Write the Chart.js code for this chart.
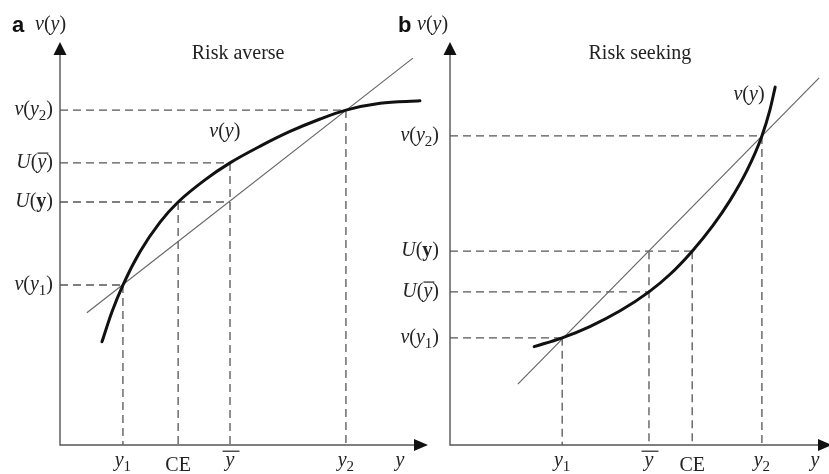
<!DOCTYPE html>
<html>
<head>
<meta charset="utf-8">
<script src="https://cdn.jsdelivr.net/npm/chart.js@4"></script>
<style>
  html, body { margin: 0; padding: 0; background: #fff; }
  #wrap { position: relative; width: 829px; height: 474px; overflow: hidden; }
  canvas { position: absolute; top: 0; }
  #ca { left: 0; }
  #cb { left: 390px; }
</style>
</head>
<body>
<div id="wrap">
  <canvas id="ca" width="440" height="474"></canvas>
  <canvas id="cb" width="439" height="474"></canvas>
</div>
<script>
// panel a - risk averse
const aXTicks = [1.71, 3.21, 4.62, 7.77];
const aXLabels = ["y1", "CE", "ybar", "y2"];
const aYTicks = [3.97, 6.03, 7.00, 8.31];
const aYLabels = ["v(y1)", "U(y)", "U(ybar)", "v(y2)"];
const aCurveX = [1.14, 1.41, 1.71, 2.17, 2.72, 3.21, 3.94, 4.62, 5.43, 6.25, 7.07, 7.77, 8.70, 9.78];
const aCurveY = [2.56, 3.30, 3.97, 4.79, 5.53, 6.03, 6.58, 7.00, 7.41, 7.78, 8.09, 8.31, 8.48, 8.54];
const aLineX = [0.73, 9.59];
const aLineY = [3.28, 9.60];
const aHoriz = [0, 2, 2, 3];   // y tick i runs across to x tick aHoriz[i]
const aVert = [0, 1, 2, 3];    // x tick i drops from y tick aVert[i]

// panel b - risk seeking
const bXTicks = [2.96, 5.25, 6.39, 8.23];
const bXLabels = ["y1", "ybar", "CE", "y2"];
const bYTicks = [2.66, 3.80, 4.81, 7.67];
const bYLabels = ["v(y1)", "U(ybar)", "U(y)", "v(y2)"];
const bCurveX = [2.22, 2.96, 3.69, 4.49, 5.25, 5.80, 6.39, 6.94, 7.39, 7.84, 8.23, 8.44, 8.58];
const bCurveY = [2.44, 2.66, 2.94, 3.33, 3.80, 4.23, 4.81, 5.45, 6.07, 6.82, 7.67, 8.31, 8.88];
const bLineX = [1.79, 9.74];
const bLineY = [1.51, 9.11];
const bHoriz = [0, 1, 2, 3];
const bVert = [0, 2, 2, 3];

const LABELS = {
  "y": [["y", "i"]],
  "v(y)": [["v", "i"], ["(", "r"], ["y", "i"], [")", "r"]],
  "y1": [["y", "i"], ["1", "s"]],
  "y2": [["y", "i"], ["2", "s"]],
  "ybar": [["y", "wbar"]],
  "CE": [["CE", "r"]],
  "v(y1)": [["v", "i"], ["(", "r"], ["y", "i"], ["1", "s"], [")", "r"]],
  "v(y2)": [["v", "i"], ["(", "r"], ["y", "i"], ["2", "s"], [")", "r"]],
  "U(y)": [["U", "i"], ["(", "r"], ["y", "b"], [")", "r"]],
  "U(ybar)": [["U", "i"], ["(", "r"], ["y", "bar"], [")", "r"]]
};

function drawMath(ctx, parts, x, y, align, size) {
  const fontOf = s => {
    if (s === "i" || s === "bar" || s === "wbar") return "italic " + size + "px 'Liberation Serif'";
    if (s === "b") return "bold " + size + "px 'Liberation Serif'";
    if (s === "s") return Math.round(size * 0.75) + "px 'Liberation Serif'";
    return size + "px 'Liberation Serif'";
  };
  const widths = parts.map(p => { ctx.font = fontOf(p[1]); return ctx.measureText(p[0]).width; });
  const total = widths.reduce((s, w) => s + w, 0);
  let cx = align === "right" ? x - total : align === "center" ? x - total / 2 : x;
  ctx.textAlign = "left";
  ctx.textBaseline = "alphabetic";
  parts.forEach((p, i) => {
    const s = p[1];
    ctx.font = fontOf(s);
    ctx.fillText(p[0], cx, s === "s" ? y + size * 0.25 : y);
    if (s === "bar" || s === "wbar") {
      const ext = s === "wbar" ? 4 : 1;
      ctx.lineWidth = 1.2;
      ctx.beginPath();
      ctx.moveTo(cx - ext + 1, y - size * 0.74);
      ctx.lineTo(cx + widths[i] + ext + 1, y - size * 0.74);
      ctx.stroke();
    }
    cx += widths[i];
  });
}

const diagram = {
  id: "diagram",
  beforeDatasetsDraw(chart, args, o) {
    const ctx = chart.ctx, a = chart.chartArea;
    ctx.save();
    ctx.strokeStyle = "#555";
    ctx.lineWidth = 1.4;
    ctx.beginPath();
    ctx.moveTo(a.left, a.top + 10);
    ctx.lineTo(a.left, a.bottom);
    ctx.lineTo(a.right + o.arrowShift - 10, a.bottom);
    ctx.stroke();
    ctx.fillStyle = "#111";
    ctx.beginPath();
    ctx.moveTo(a.left, a.top);
    ctx.lineTo(a.left - 6.5, a.top + 13);
    ctx.lineTo(a.left + 6.5, a.top + 13);
    ctx.fill();
    const tip = a.right + o.arrowShift;
    ctx.beginPath();
    ctx.moveTo(tip, a.bottom);
    ctx.lineTo(tip - 14, a.bottom - 6);
    ctx.lineTo(tip - 14, a.bottom + 6);
    ctx.fill();
    ctx.restore();
  },
  afterDraw(chart, args, o) {
    const ctx = chart.ctx, a = chart.chartArea;
    const sx = chart.scales.x, sy = chart.scales.y;
    ctx.save();
    ctx.fillStyle = "#222";
    ctx.strokeStyle = "#222";
    o.yTicks.forEach((v, i) => {
      drawMath(ctx, LABELS[o.yLabels[i]], a.left - o.tickGap, sy.getPixelForValue(v) + 5, "right", 20);
    });
    o.xTicks.forEach((v, i) => {
      const lab = o.xLabels[i];
      drawMath(ctx, LABELS[lab], sx.getPixelForValue(v), a.bottom + (lab === "CE" ? 26 : 21), "center", 20);
    });
    drawMath(ctx, LABELS["y"], sx.getPixelForValue(o.axisLabelX), a.bottom + 21, "center", 20);
    drawMath(ctx, LABELS["v(y)"], sx.getPixelForValue(o.curveLabel[0]), sy.getPixelForValue(o.curveLabel[1]), "center", 20);
    ctx.font = "20px 'Liberation Serif'";
    ctx.textAlign = "center";
    ctx.fillText(o.title, sx.getPixelForValue(o.titlePos[0]), sy.getPixelForValue(o.titlePos[1]));
    ctx.font = "bold 22px 'Liberation Sans'";
    ctx.textAlign = "left";
    ctx.fillStyle = "#111";
    ctx.fillText(o.letter, a.left + o.letterDx, 32);
    ctx.fillStyle = "#222";
    drawMath(ctx, LABELS["v(y)"], a.left + o.headDx, 30, "left", 20);
    ctx.restore();
  }
};

function pts(xs, ys) {
  return xs.map((x, i) => ({ x: x, y: ys[i] }));
}

function dashed(data) {
  return {
    data: data, borderColor: "#555", borderWidth: 1.3, tension: 0,
    borderDash: [8, 5], pointRadius: 0, order: 2, clip: false
  };
}

function makeChart(id, p) {
  const sets = [
    {
      data: pts(p.curveX, p.curveY), borderColor: "#111", borderWidth: 3,
      cubicInterpolationMode: "monotone",
      borderCapStyle: "round", borderJoinStyle: "round",
      pointRadius: 0, order: 0, clip: false
    },
    {
      data: pts(p.lineX, p.lineY), borderColor: "#666", borderWidth: 1.2, tension: 0,
      pointRadius: 0, order: 1, clip: false
    }
  ];
  p.horiz.forEach((xi, i) => {
    sets.push(dashed([{ x: 0, y: p.yTicks[i] }, { x: p.xTicks[xi], y: p.yTicks[i] }]));
  });
  p.vert.forEach((yi, i) => {
    sets.push(dashed([{ x: p.xTicks[i], y: p.yTicks[yi] }, { x: p.xTicks[i], y: 0 }]));
  });
  return new Chart(document.getElementById(id), {
    type: "line",
    data: { datasets: sets },
    options: {
      responsive: false,
      animation: false,
      events: [],
      layout: { padding: p.pad },
      scales: {
        x: { display: false, type: "linear", min: 0, max: 10 },
        y: { display: false, type: "linear", min: 0, max: 10 }
      },
      plugins: {
        legend: { display: false },
        tooltip: { enabled: false },
        diagram: p.diagram
      }
    },
    plugins: [diagram]
  });
}

makeChart("ca", {
  curveX: aCurveX, curveY: aCurveY, lineX: aLineX, lineY: aLineY,
  xTicks: aXTicks, yTicks: aYTicks, horiz: aHoriz, vert: aVert,
  pad: { left: 60, right: 12, top: 42, bottom: 29 },
  diagram: {
    xTicks: aXTicks, xLabels: aXLabels, yTicks: aYTicks, yLabels: aYLabels,
    title: "Risk averse", titlePos: [4.84, 9.58], curveLabel: [4.48, 7.64],
    axisLabelX: 9.24, letter: "a", letterDx: -48, headDx: -25, tickGap: 7, arrowShift: 0
  }
});

makeChart("cb", {
  curveX: bCurveX, curveY: bCurveY, lineX: bLineX, lineY: bLineY,
  xTicks: bXTicks, yTicks: bYTicks, horiz: bHoriz, vert: bVert,
  pad: { left: 60, right: 0, top: 42, bottom: 29 },
  diagram: {
    xTicks: bXTicks, xLabels: bXLabels, yTicks: bYTicks, yLabels: bYLabels,
    title: "Risk seeking", titlePos: [5.01, 9.58], curveLabel: [7.89, 8.56],
    axisLabelX: 9.63, letter: "b", letterDx: -52, headDx: -33, tickGap: 11, arrowShift: 3
  }
});
</script>
</body>
</html>
